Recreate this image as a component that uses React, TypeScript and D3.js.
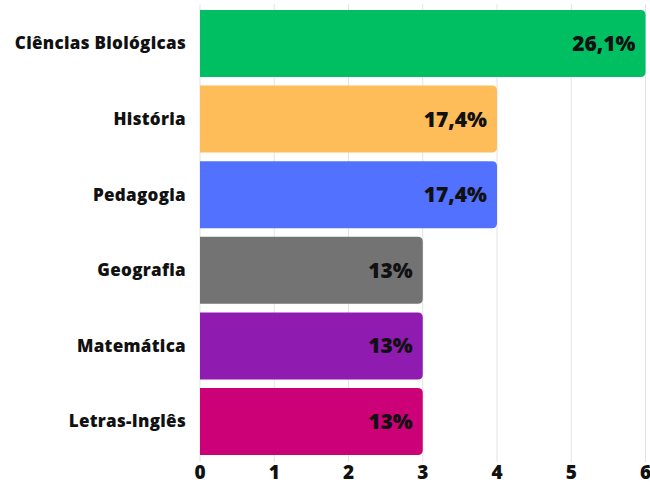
import { useEffect, useRef } from 'react'
import * as d3 from 'd3'

const categories = ['Ciências Biológicas', 'História', 'Pedagogia', 'Geografia', 'Matemática', 'Letras-Inglês']
const counts = [6, 4, 4, 3, 3, 3]
const labels = ['26,1%', '17,4%', '17,4%', '13%', '13%', '13%']
const colors = ['#00bf63', '#ffbd59', '#5271ff', '#737373', '#8f1bb0', '#cc0077']
const ticks = [0, 1, 2, 3, 4, 5, 6]

const font = '"Open Sans", Lato, sans-serif'

// path for a bar with only the right corners rounded
const barPath = (x0: number, y: number, w: number, h: number, r: number) =>
  `M${x0},${y}H${x0 + w - r}Q${x0 + w},${y} ${x0 + w},${y + r}V${y + h - r}Q${x0 + w},${y + h} ${x0 + w - r},${y + h}H${x0}Z`

export default function App() {
  const svgRef = useRef<SVGSVGElement>(null)

  useEffect(() => {
    document.body.style.margin = '0'
    if (!svgRef.current) return
    const svg = d3.select(svgRef.current)
    svg.selectAll('*').remove()

    const x = d3.scaleLinear().domain([0, 6]).range([200, 645.5])
    const y = d3.scaleBand().domain(categories).range([5.7, 459.3]).paddingInner(0.114).paddingOuter(0.057)

    // grid
    svg
      .append('g')
      .selectAll('line')
      .data(ticks)
      .enter()
      .append('line')
      .attr('x1', (d) => x(d))
      .attr('x2', (d) => x(d))
      .attr('y1', 4)
      .attr('y2', 462)
      .attr('stroke', '#e3e3e3')
      .attr('stroke-width', 1)

    const rows = svg
      .append('g')
      .selectAll('g')
      .data(categories)
      .enter()
      .append('g')

    rows
      .append('path')
      .attr('d', (d, i) => barPath(x(0), y(d)!, x(counts[i]) - x(0), y.bandwidth(), 5))
      .attr('fill', (_, i) => colors[i])

    rows
      .append('text')
      .attr('x', 186)
      .attr('y', (d) => y(d)! + y.bandwidth() / 2)
      .attr('dy', '0.35em')
      .attr('text-anchor', 'end')
      .attr('font-family', font)
      .attr('font-weight', 800)
      .attr('font-size', 17)
      .attr('letter-spacing', 0.3)
      .attr('fill', '#111')
      .text((d) => d)

    rows
      .append('text')
      .attr('x', (_, i) => x(counts[i]) - 10)
      .attr('y', (d) => y(d)! + y.bandwidth() / 2)
      .attr('dy', '0.36em')
      .attr('text-anchor', 'end')
      .attr('font-family', font)
      .attr('font-weight', 800)
      .attr('font-size', 21)
      .attr('fill', '#111')
      .text((_, i) => labels[i])

    // x tick labels
    svg
      .append('g')
      .selectAll('text')
      .data(ticks)
      .enter()
      .append('text')
      .attr('x', (d) => x(d))
      .attr('y', 472)
      .attr('dy', '0.36em')
      .attr('text-anchor', 'middle')
      .attr('font-family', font)
      .attr('font-weight', 800)
      .attr('font-size', 19)
      .attr('fill', '#111')
      .text((d) => d)
  }, [])

  return <svg ref={svgRef} width={650} height={485} style={{ display: 'block', background: '#fff' }} />
}
